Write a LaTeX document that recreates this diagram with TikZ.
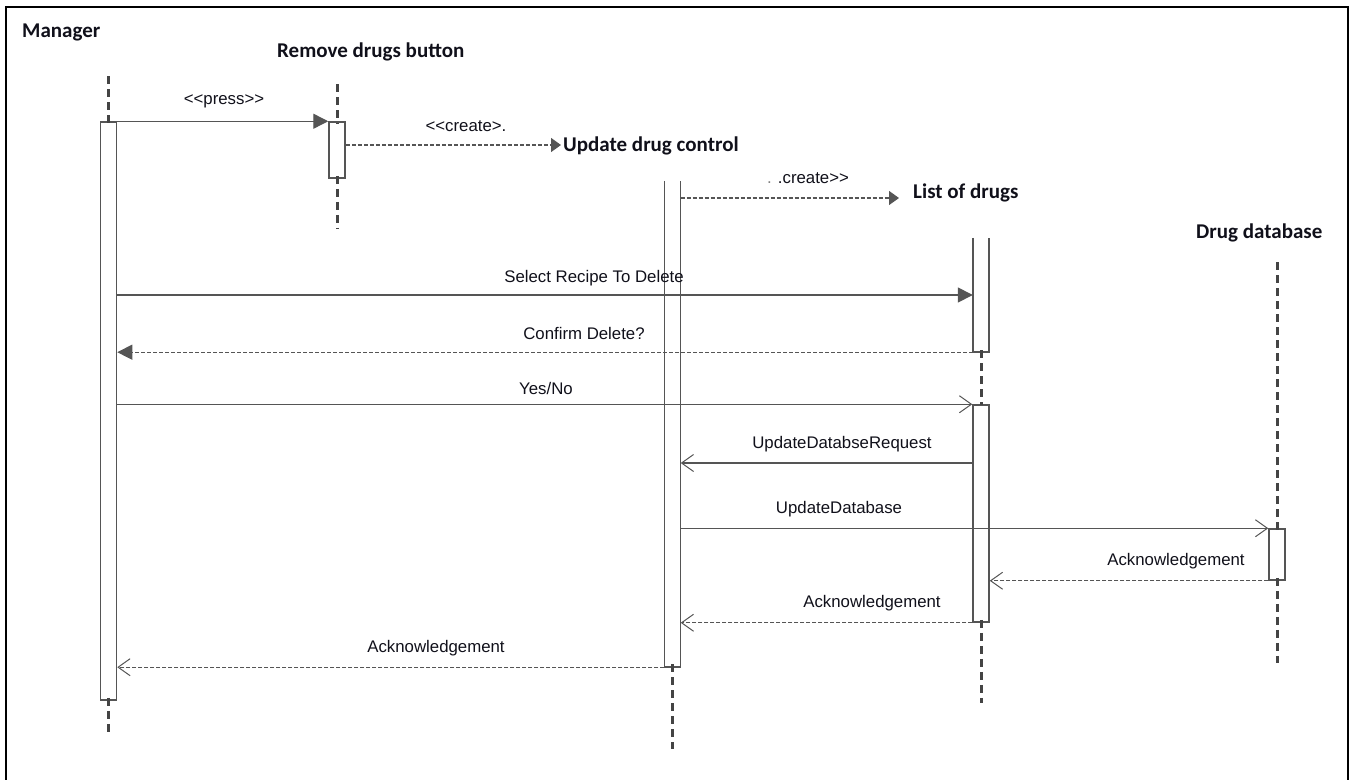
\documentclass[tikz,border=0pt]{standalone}
\usepackage{fontspec}
\setmainfont{Liberation Sans}
\newfontfamily\titlefont{Carlito}
\usetikzlibrary{arrows.meta}
\definecolor{ln}{HTML}{555555}
\definecolor{ll}{HTML}{444444}
\definecolor{txt}{HTML}{10101A}
\newcommand\dlt{<\kern0pt<}
\newcommand\dgt{>\kern0pt>}
\begin{document}
\begin{tikzpicture}[x=1pt,y=-1pt,
  actbox/.style={draw=ln, line width=1.5pt, fill=white, inner sep=0pt, minimum width=16pt},
  openbox/.style={inner sep=0pt, minimum width=16pt},
  boxline/.style={draw=ln, line width=1.5pt},
  lifeline/.style={draw=ll, line width=3pt, dash pattern=on 8pt off 5pt},
  msg/.style={draw=ln, line width=1.4pt},
  reply/.style={draw=ln, line width=1.2pt, dash pattern=on 4pt off 2pt},
  filled/.style={-{Triangle[length=15pt,width=15pt]}},
  smallfilled/.style={-{Triangle[length=10pt,width=14pt]}},
  openarr/.style={-{Straight Barb[length=12pt,width=17pt,line width=1pt]}},
  lbl/.style={font=\fontsize{16.8}{19}\selectfont, text=txt, inner sep=0pt},
  title/.style={font=\titlefont\bfseries\fontsize{21}{23}\selectfont, text=txt, inner sep=0pt, anchor=west}
]
\useasboundingbox (0,0) rectangle (1354,779);
% frame
\draw[line width=2.5pt, black] (6,790) -- (6,7) -- (1348,7) -- (1348,790);

% titles
\node[title] (mgrt) at (22,32) {Manager};
\node[title] (btnt) at (277,52) {Remove drugs button};
\node[title] (udct) at (563,146) {Update drug control};
\node[title] (lodt) at (913,193) {List of drugs};
\node[title] (dbt)  at (1196,233) {Drug database};

% activation boxes
\node[actbox, minimum height=578pt] (mgrbox) at (108.5,411) {};
\node[actbox, minimum height=56pt]  (btnbox) at (337,150) {};
\node[openbox, minimum height=486pt] (udcbox) at (672.5,424) {};
\node[openbox, minimum height=114pt] (lod1) at (981,295) {};
\node[actbox, minimum height=217pt] (lod2) at (981,513.5) {};
\node[actbox, minimum height=51pt]  (dbbox) at (1277,554.5) {};
\draw[boxline] (udcbox.north west) -- (udcbox.south west) -- (udcbox.south east) -- (udcbox.north east);
\draw[boxline] (lod1.north west) -- (lod1.south west) -- (lod1.south east) -- (lod1.north east);

% lifeline ends
\coordinate (mgrtop) at (108.5,76);
\coordinate (mgrbot) at (108.5,734);
\coordinate (btntop) at (337,84);
\coordinate (btnbot) at (337,229);
\coordinate (udcbot) at (672.5,749);
\coordinate (lodbot) at (981,703);
\coordinate (dbtop) at (1277,262);
\coordinate (dbbot) at (1277,663);

\draw[lifeline] (mgrtop) -- ([yshift=-3pt]mgrbox.north);
\draw[lifeline] ([yshift=3pt]mgrbox.south) -- (mgrbot);
\draw[lifeline] (btntop) -- ([yshift=-3pt]btnbox.north);
\draw[lifeline] ([yshift=3pt]btnbox.south) -- (btnbot);
\draw[lifeline] ([yshift=3pt]udcbox.south) -- (udcbot);
\draw[lifeline] ([yshift=2pt]lod1.south) -- ([yshift=-1pt]lod2.north);
\draw[lifeline] ([yshift=3pt]lod2.south) -- (lodbot);
\draw[lifeline] (dbtop) -- ([yshift=-2pt]dbbox.north);
\draw[lifeline] ([yshift=3pt]dbbox.south) -- (dbbot);

% message heights
\coordinate (ycr1) at (0,145);
\coordinate (ycr2) at (0,198);
\coordinate (ysel) at (0,295);
\coordinate (yreq) at (0,463);

% messages
\draw[msg, filled] (mgrbox.north east) -- (btnbox.north west);
\node[lbl] (lpress) at (224,101) {\dlt press\dgt};

\draw[reply, smallfilled] (btnbox.east |- ycr1) -- ([xshift=-2pt]udct.west |- ycr1);
\node[lbl] (lcr1) at (466,126) {\dlt create>.};

\draw[reply, smallfilled] (udcbox.east |- ycr2) -- ([xshift=-14pt]lodt.west |- ycr2);
\node[lbl] (lcr2) at (808,178) {{\color{gray}.} .create\dgt};

\draw[msg, filled] (mgrbox.east |- ysel) -- (lod1.west |- ysel);
\node[lbl] (lsel) at (594,278) {Select Recipe To Delete};

\draw[reply, filled] (lod1.south west) -- (mgrbox.east |- lod1.south);
\node[lbl] (lconf) at (584,333) {Confirm Delete?};

\draw[msg, openarr] (mgrbox.east |- lod2.north) -- (lod2.north west);
\node[lbl] (lyes) at (546,388) {Yes/No};

\draw[msg, openarr] (lod2.west |- yreq) -- (udcbox.east |- yreq);
\node[lbl] (lreq) at (842,444) {UpdateDatabseRequest};

\draw[msg, openarr] (udcbox.east |- dbbox.north) -- (dbbox.north west);
\node[lbl] (lupd) at (839,509) {UpdateDatabase};

\draw[reply, openarr] (dbbox.south west) -- (lod2.east |- dbbox.south);
\node[lbl] (lack1) at (1176,561) {Acknowledgement};

\draw[reply, openarr] (lod2.south west) -- (udcbox.east |- lod2.south);
\node[lbl] (lack2) at (872,603) {Acknowledgement};

\draw[reply, openarr] (udcbox.south west) -- (mgrbox.east |- udcbox.south);
\node[lbl] (lack3) at (436,648) {Acknowledgement};
\end{tikzpicture}
\end{document}
